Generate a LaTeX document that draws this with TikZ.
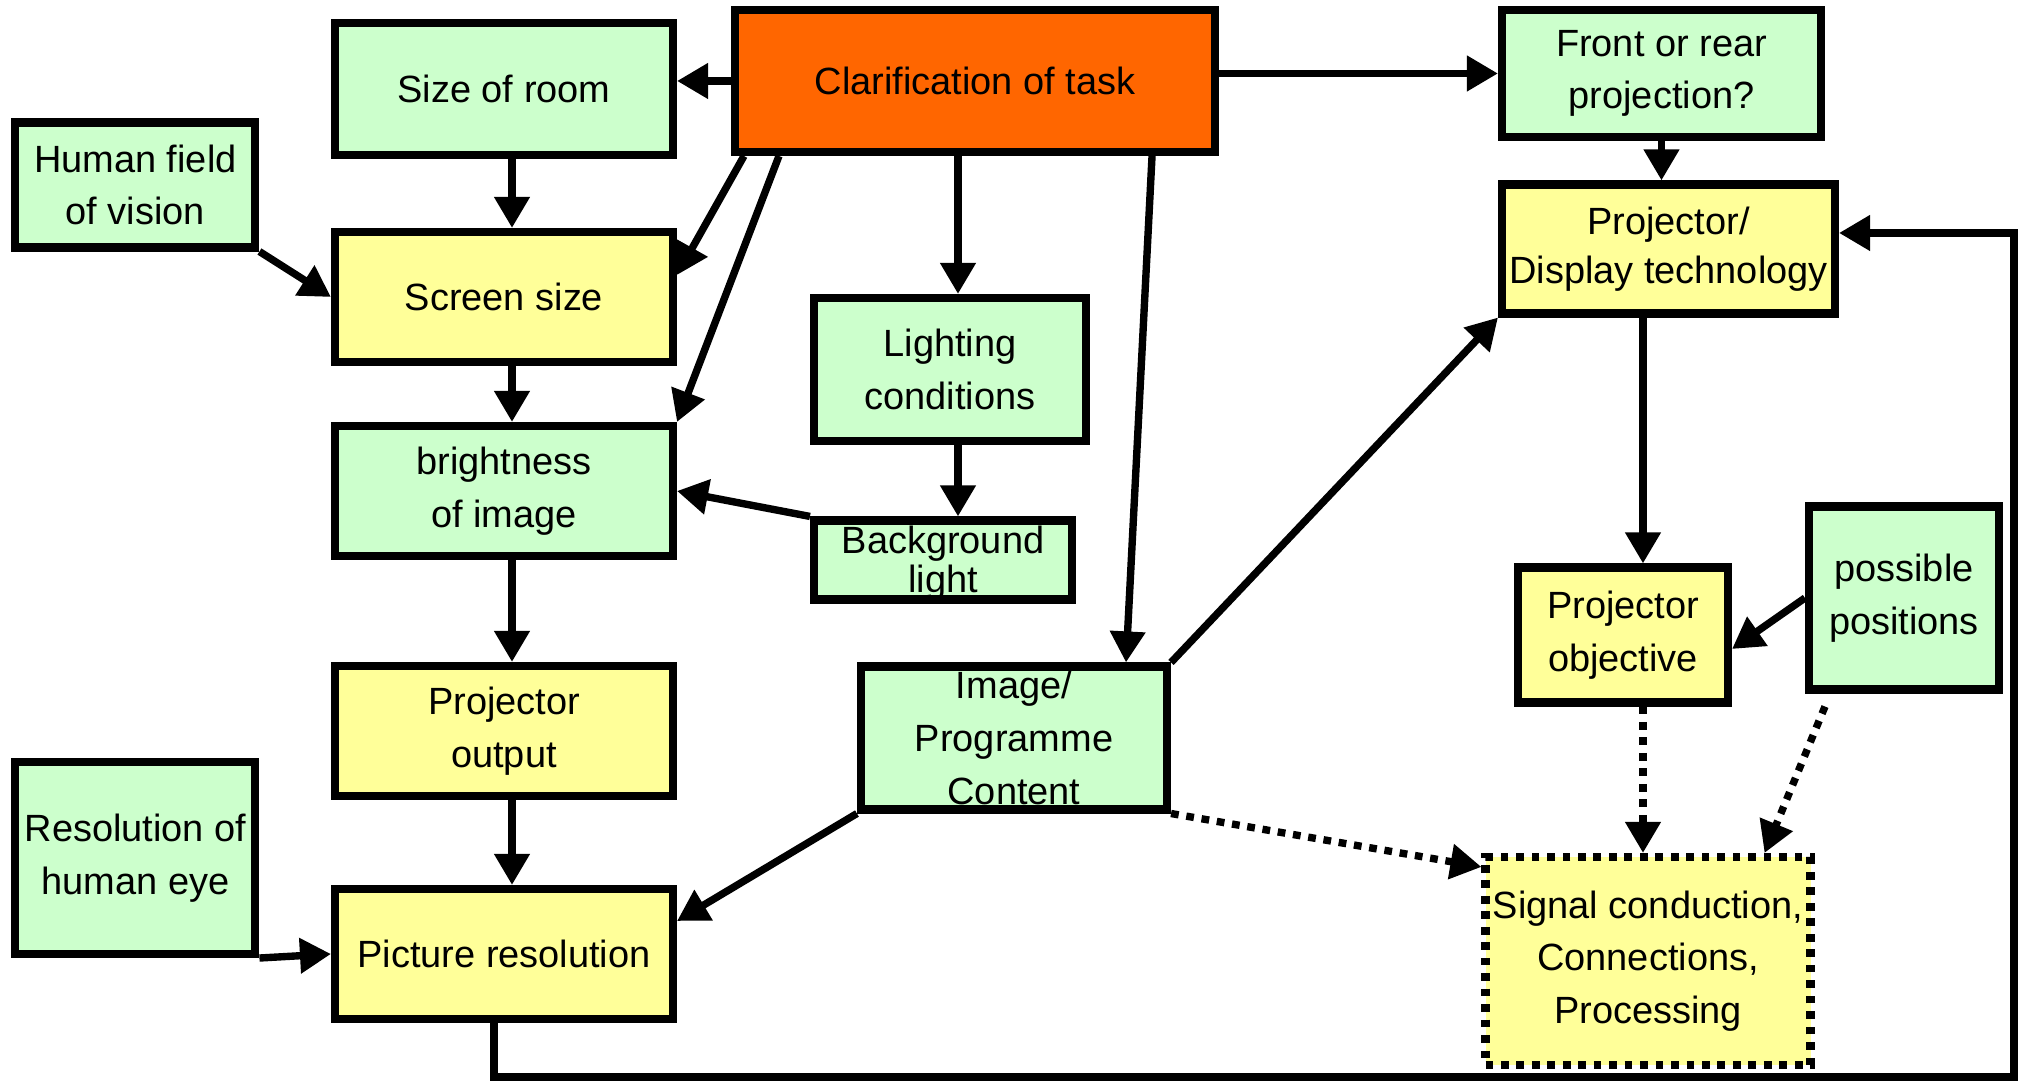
\documentclass[tikz,border=0pt]{standalone}
\usepackage{fontspec}
\setmainfont{Liberation Sans}
\usetikzlibrary{arrows.meta}
\definecolor{boxgreen}{HTML}{CCFFCC}
\definecolor{boxyellow}{HTML}{FFFF99}
\definecolor{boxorange}{HTML}{FF6600}

\begin{document}
\begin{tikzpicture}[
  box/.style={draw, line width=2.3pt, align=center, inner sep=1pt,
    font=\fontsize{10.8}{15}\selectfont},
  gbox/.style={box, fill=boxgreen},
  ybox/.style={box, fill=boxyellow},
  colbox/.style={minimum width=3.38cm, minimum height=1.3cm},
  arr/.style={line width=2.1pt, -{Triangle[length=3.1mm,width=3.4mm]}},
  dotarr/.style={arr, dash pattern=on 2.2pt off 2.2pt},
  boxtext/.style={align=center, inner sep=0pt, font=\fontsize{10.8}{15}\selectfont}
]
  \useasboundingbox (0,0) rectangle (20.22,10.83);

  % Top row
  \node[box, fill=boxorange, minimum width=4.8cm, minimum height=1.42cm] (clar) at (9.75,10.02) {Clarification of task};
  \node[gbox, colbox, minimum height=1.32cm] (room) at (5.04,9.94) {Size of room};
  \node[gbox, minimum width=3.19cm, minimum height=1.27cm] (front) at (16.615,10.095) {Front or rear\\projection?};

  % Left column
  \node[gbox, minimum width=2.4cm, minimum height=1.25cm] (human) at (1.354,8.98) {Human field\\of vision};
  \node[ybox, colbox] (screen) at (5.04,7.86) {Screen size};
  \node[gbox, colbox] (bright) at (5.04,5.92) {brightness\\of image};
  \node[ybox, colbox] (output) at (5.04,3.52) {Projector\\output};
  \node[gbox, minimum width=2.4cm, minimum height=1.92cm] (eye) at (1.354,2.25) {Resolution of\\human eye};
  \node[ybox, colbox] (pres) at (5.04,1.29) {Picture resolution};

  % Middle
  \node[gbox, minimum width=2.72cm, minimum height=1.43cm] (light) at (9.5,7.135) {Lighting\\conditions};
  \node[gbox, minimum width=2.58cm, minimum height=0.79cm] (bg) at (9.43,5.23) {};
  \node[boxtext, font=\fontsize{10.8}{11}\selectfont] (bgtext) at ([yshift=-0.03cm]bg.center) {Background\\light};
  \node[gbox, minimum width=3.06cm, minimum height=1.43cm] (img) at (10.14,3.45) {};
  \node[boxtext] (imgtext) at (img.center) {Image/\\Programme\\Content};

  % Right side
  \node[ybox, minimum width=3.33cm, minimum height=1.29cm, font=\fontsize{10.8}{14}\selectfont] (disp) at (16.685,8.34) {Projector/\\Display technology};
  \node[ybox, minimum width=2.1cm, minimum height=1.35cm] (obj) at (16.23,4.48) {Projector\\objective};
  \node[gbox, minimum width=1.9cm, minimum height=1.83cm] (pos) at (19.04,4.85) {possible\\positions};
  \node[ybox, dash pattern=on 2.2pt off 2.2pt, minimum width=3.25cm, minimum height=2.08cm] (sig) at (16.48,1.22) {Signal conduction,\\Connections,\\Processing};

  % Arrows from the task
  \draw[arr] (clar.west) -- (clar.west -| room.east);
  \draw[arr] (clar.east |- front.west) -- (front.west);
  \draw[arr] ([xshift=0.13cm]clar.south west) -- ([yshift=0.22cm]screen.east);
  \draw[arr] ([xshift=0.48cm]clar.south west) -- (bright.north east);
  \draw[arr] ([xshift=0.08cm]light.north |- clar.south) -- ([xshift=0.08cm]light.north);
  \draw[arr] ([xshift=-0.67cm]clar.south east) -- ([xshift=-0.45cm]img.north east);

  % Left chain
  \draw[arr] ([xshift=0.08cm]room.south) -- ([xshift=0.08cm]screen.north);
  \draw[arr] (human.south east) -- (screen.west);
  \draw[arr] ([xshift=0.08cm]screen.south) -- ([xshift=0.08cm]bright.north);
  \draw[arr] ([xshift=0.08cm]bright.south) -- ([xshift=0.08cm]output.north);
  \draw[arr] ([xshift=0.08cm]output.south) -- ([xshift=0.08cm]pres.north);
  \draw[arr] (eye.south east) -- (pres.west);

  % Middle
  \draw[arr] ([xshift=0.08cm]light.south) -- ([xshift=0.08cm]light.south |- bg.north);
  \draw[arr] (bg.north west) -- (bright.east);
  \draw[arr] (img.south west) -- ([yshift=0.33cm]pres.east);
  \draw[arr] (img.north east) -- (disp.south west);
  \draw[dotarr] (img.south east) -- ([yshift=-0.14cm]sig.north west);

  % Right
  \draw[arr] (front.south) -- (front.south |- disp.north);
  \draw[arr] ([xshift=0.2cm]obj.north |- disp.south) -- ([xshift=0.2cm]obj.north);
  \draw[arr] (pos.west) -- ([yshift=-0.14cm]obj.east);
  \draw[dotarr] ([xshift=0.2cm]obj.south) -- ([xshift=0.2cm]obj.south |- sig.north);
  \draw[dotarr] ([xshift=-0.79cm,yshift=-0.13cm]pos.south) -- ([xshift=-0.5cm]sig.north east);

  % Feedback loop
  \coordinate (fbA) at (4.94,0.06);
  \coordinate (fbB) at (20.14,0.06);
  \coordinate (fbC) at (20.14,8.5);
  \draw[arr] (pres.south -| fbA) -- (fbA) -- (fbB) -- (fbC) -- (fbC -| disp.east);

\end{tikzpicture}
\end{document}
